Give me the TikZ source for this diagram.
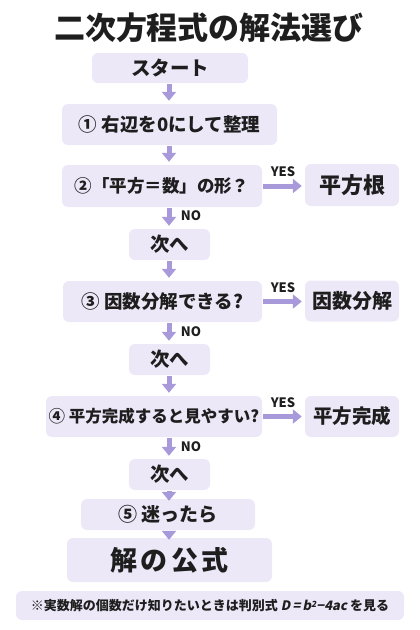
\documentclass[tikz,border=0pt]{standalone}
\usepackage{fontspec}
\setmainfont{Noto Sans CJK JP}
\newfontfamily\slantfont{Noto Sans CJK JP}[FakeSlant=0.2]
\usetikzlibrary{arrows.meta}
\definecolor{boxfill}{HTML}{ECE8F8}
\definecolor{flowcol}{HTML}{A899DB}
\definecolor{ink}{HTML}{1E1E1E}

\begin{document}
\begin{tikzpicture}[x=1pt, y=-1pt, text=ink,
    box/.style = {draw=none, fill=boxfill, rounded corners=6pt, inner sep=0pt, font=\bfseries\fontsize{18.5}{20}\selectfont},
    flow/.style = {draw=flowcol, line width=5pt, -{Triangle[width=14pt,length=9pt]}, shorten <=1pt, shorten >=3pt},
    tight/.style = {shorten >=-2pt},
    tag/.style = {font=\bfseries\fontsize{13}{14}\selectfont}]
  \useasboundingbox (0,0) rectangle (420,630);
  \coordinate (spine) at (169,0);

  \node (title) at (209,28) {\bfseries\fontsize{31}{34}\selectfont 二次方程式の解法選び};

  \node[box, minimum width=156pt, minimum height=30pt, font=\bfseries\fontsize{19.5}{22}\selectfont] (start) at (170,68) {スタート};
  \node[box, minimum width=215pt, minimum height=41pt] (s1)    at (169.5,124.5) {① 右辺を0にして整理};
  \node[box, minimum width=200pt, minimum height=42pt, font=\bfseries\fontsize{17.5}{20}\selectfont] (s2) at (162,186) {②「平方＝数」の形？};
  \node[box, minimum width=94pt,  minimum height=42pt, font=\bfseries\fontsize{22}{24}\selectfont] (r2) at (352,185) {平方根};
  \node[box, minimum width=81pt,  minimum height=31pt, font=\bfseries\fontsize{19.5}{22}\selectfont] (n2) at (169.5,244.5) {次へ};
  \node[box, minimum width=199pt, minimum height=41pt] (s3)    at (162.5,301.5) {③ 因数分解できる?};
  \node[box, minimum width=94pt,  minimum height=41pt, font=\bfseries\fontsize{20}{22}\selectfont] (r3) at (352,301) {因数分解};
  \node[box, minimum width=81pt,  minimum height=31pt, font=\bfseries\fontsize{19.5}{22}\selectfont] (n3) at (169.5,359.5) {次へ};
  \node[box, minimum width=216pt, minimum height=41pt, font=\bfseries\fontsize{16.5}{18}\selectfont] (s4) at (154,416.5) {④ 平方完成すると見やすい?};
  \node[box, minimum width=94pt,  minimum height=41pt, font=\bfseries\fontsize{19.5}{22}\selectfont] (r4) at (352,416.5) {平方完成};
  \node[box, minimum width=81pt,  minimum height=31pt, font=\bfseries\fontsize{19.5}{22}\selectfont] (n4) at (169.5,474.5) {次へ};
  \node[box, minimum width=174pt, minimum height=31pt, font=\bfseries\fontsize{19}{22}\selectfont] (s5) at (168,514.5) {⑤ 迷ったら};
  \node[box, minimum width=205pt, minimum height=44pt, font=\bfseries\fontsize{27}{30}\selectfont\addfontfeature{LetterSpace=12}] (formula) at (169.5,560) {解の公式};
  \node[box, minimum width=388pt, minimum height=29pt, font=\bfseries\fontsize{13}{14}\selectfont] (note) at (210,605.5)
    {※実数解の個数だけ知りたいときは判別式 {\slantfont\bfseries D\,=\,b\raisebox{0.45ex}{\fontsize{8.5}{9}\selectfont 2}−4ac} を見る};

  \draw[flow] (start.south -| spine) -- (s1.north -| spine);
  \draw[flow] (s1.south -| spine) -- (s2.north -| spine);
  \draw[flow] (s2.south -| spine) -- (n2.north -| spine);
  \draw[flow] (n2.south -| spine) -- (s3.north -| spine);
  \draw[flow] (s3.south -| spine) -- (n3.north -| spine);
  \draw[flow] (n3.south -| spine) -- (s4.north -| spine);
  \draw[flow] (s4.south -| spine) -- (n4.north -| spine);
  \draw[flow, tight] (n4.south -| spine) -- (s5.north -| spine);
  \draw[flow, tight] (s5.south -| spine) -- (formula.north -| spine);

  \draw[flow] (s2.east) -- (r2.west |- s2.east);
  \draw[flow] (s3.east) -- (r3.west |- s3.east);
  \draw[flow] (s4.east) -- (r4.west |- s4.east);

  \node[tag] (yes2) at (283,172) {YES};
  \node[tag] (yes3) at (283,288) {YES};
  \node[tag] (yes4) at (283,403) {YES};
  \node[tag] (no2)  at (191,216) {NO};
  \node[tag] (no3)  at (191,332) {NO};
  \node[tag] (no4)  at (191,447) {NO};
\end{tikzpicture}
\end{document}
